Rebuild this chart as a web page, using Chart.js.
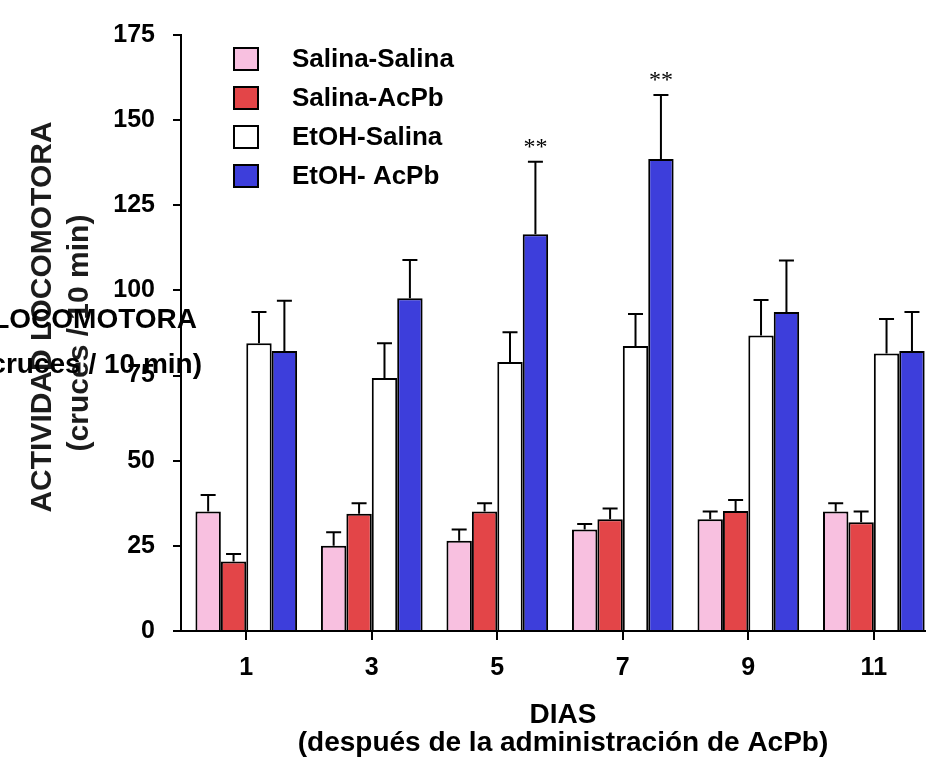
<!DOCTYPE html>
<html>
<head>
<meta charset="utf-8">
<script src="https://cdn.jsdelivr.net/npm/chart.js@4/dist/chart.umd.min.js"></script>
<style>
  html, body { margin: 0; padding: 0; background: #fff; overflow: hidden; }
  #wrap { width: 946px; height: 762px; }
</style>
</head>
<body>
<div id="wrap"><canvas id="c" width="946" height="762"></canvas></div>
<script>
// Days after AcPb administration
const days = [1, 3, 5, 7, 9, 11];

// Mean locomotor activity (crossings / 10 min) and SEM per group
const salinaSalina = [35.1, 25.0, 26.5, 29.8, 32.8, 35.1];
const salinaSalinaErr = [4.8, 4.0, 3.3, 1.6, 2.3, 2.4];
const salinaAcPb = [20.4, 34.4, 35.1, 32.8, 35.2, 31.9];
const salinaAcPbErr = [2.2, 3.1, 2.4, 3.2, 3.3, 3.2];
const etohSalina = [84.5, 74.3, 79.0, 83.7, 86.8, 81.5];
const etohSalinaErr = [9.2, 10.2, 8.7, 9.4, 10.4, 10.1];
const etohAcPb = [82.2, 97.7, 116.5, 138.6, 93.7, 82.2];
const etohAcPbErr = [14.8, 11.2, 21.3, 18.8, 15.1, 11.5];
const etohAcPbMarks = ['', '', '**', '**', '', ''];

const seriesNames = ['Salina-Salina', 'Salina-AcPb', 'EtOH-Salina', 'EtOH- AcPb'];
const yTicks = [0, 25, 50, 75, 100, 125, 150, 175];

const FONT = '"Liberation Sans", Arial, Helvetica, sans-serif';

function points(vals) { return days.map((d, i) => ({ x: d, y: vals[i] })); }

const datasets = [
  { label: seriesNames[0], data: points(salinaSalina), errors: salinaSalinaErr, backgroundColor: '#F8C0E0' },
  { label: seriesNames[1], data: points(salinaAcPb), errors: salinaAcPbErr, backgroundColor: '#E34548' },
  { label: seriesNames[2], data: points(etohSalina), errors: etohSalinaErr, backgroundColor: '#FFFFFF' },
  { label: seriesNames[3], data: points(etohAcPb), errors: etohAcPbErr, marks: etohAcPbMarks, backgroundColor: '#3D3EDB' }
];

// Upward SEM whiskers with caps, plus significance stars
const errorBars = {
  id: 'errorBars',
  afterDatasetsDraw(chart) {
    const ctx = chart.ctx, ys = chart.scales.y;
    ctx.save();
    ctx.strokeStyle = '#000';
    ctx.lineWidth = 2;
    chart.data.datasets.forEach((ds, di) => {
      const meta = chart.getDatasetMeta(di);
      meta.data.forEach((bar, i) => {
        const v = ds.data[i].y, e = ds.errors[i];
        const yTop = ys.getPixelForValue(v);
        const yCap = ys.getPixelForValue(v + e);
        ctx.beginPath();
        ctx.moveTo(bar.x, yTop);
        ctx.lineTo(bar.x, yCap);
        ctx.moveTo(bar.x - 7.5, yCap);
        ctx.lineTo(bar.x + 7.5, yCap);
        ctx.stroke();
        if (ds.marks && ds.marks[i]) {
          ctx.fillStyle = '#000';
          ctx.font = '24px "Liberation Serif", "Times New Roman", serif';
          ctx.textAlign = 'center';
          ctx.textBaseline = 'alphabetic';
          ctx.fillText(ds.marks[i], bar.x, yCap - 8);
        }
      });
    });
    ctx.restore();
  }
};

// Legend block in the upper-left of the plot
const boxLegend = {
  id: 'boxLegend',
  afterDraw(chart) {
    const ctx = chart.ctx;
    ctx.save();
    chart.data.datasets.forEach((ds, i) => {
      const top = 47 + i * 39;
      ctx.fillStyle = ds.backgroundColor;
      ctx.fillRect(233, top, 26, 24);
      ctx.strokeStyle = '#000';
      ctx.lineWidth = 2;
      ctx.strokeRect(234, top + 1, 24, 22);
      ctx.fillStyle = '#000';
      ctx.font = 'bold 26px ' + FONT;
      ctx.textAlign = 'left';
      ctx.textBaseline = 'middle';
      ctx.fillText(ds.label, 292, top + 13);
    });
    ctx.restore();
  }
};

// Axis titles
const axisTitles = {
  id: 'axisTitles',
  afterDraw(chart) {
    const ctx = chart.ctx;
    ctx.save();
    // vertical title
    ctx.fillStyle = '#1c1c1c';
    ctx.filter = 'blur(0.5px)';
    ctx.font = 'bold 30px ' + FONT;
    ctx.textAlign = 'center';
    ctx.textBaseline = 'middle';
    ctx.save();
    ctx.translate(43, 317);
    ctx.rotate(-Math.PI / 2);
    ctx.fillText('ACTIVIDAD LOCOMOTORA', 0, 0);
    ctx.restore();
    ctx.save();
    ctx.translate(80, 333);
    ctx.rotate(-Math.PI / 2);
    ctx.fillText('(cruces / 10 min)', 0, 0);
    ctx.restore();
    ctx.filter = 'none';
    // horizontal copy of the title
    ctx.fillStyle = '#000';
    ctx.font = 'bold 28px ' + FONT;
    ctx.textAlign = 'right';
    ctx.fillText('LOCOMOTORA', 197, 320);
    ctx.fillText('(cruces / 10 min)', 202, 365);
    // x title
    ctx.font = 'bold 28px ' + FONT;
    ctx.textAlign = 'center';
    ctx.fillText('DIAS', 563, 715);
    ctx.fillText('(después de la administración de AcPb)', 563, 743);
    ctx.restore();
  }
};

const tickFont = { family: FONT, size: 25, weight: 'bold' };

new Chart(document.getElementById('c'), {
  type: 'bar',
  data: { datasets },
  plugins: [errorBars, boxLegend, axisTitles],
  options: {
    responsive: false,
    animation: false,
    layout: { padding: { top: 35, left: 0, right: 0, bottom: 0 } },
    datasets: {
      bar: {
        categoryPercentage: 0.81,
        barPercentage: 1,
        borderWidth: 2,
        borderColor: '#000',
        borderSkipped: 'start'
      }
    },
    plugins: {
      legend: { display: false },
      tooltip: { enabled: false }
    },
    scales: {
      x: {
        type: 'linear',
        offset: false,
        min: -0.04,
        max: 12.15,
        afterBuildTicks(scale) { scale.ticks = days.map(v => ({ value: v })); },
        afterFit(scale) { scale.height = 131; },
        grid: { display: true, offset: false, drawOnChartArea: false, drawTicks: true, tickLength: 9, color: '#000', lineWidth: 2 },
        border: { display: true, color: '#000', width: 2 },
        ticks: { font: tickFont, color: '#000', padding: 13, autoSkip: false, maxRotation: 0, callback: v => String(v) }
      },
      y: {
        min: 0,
        max: 175,
        afterBuildTicks(scale) { scale.ticks = yTicks.map(v => ({ value: v })); },
        afterFit(scale) { scale.width = 181; },
        grid: { display: true, drawOnChartArea: false, drawTicks: true, tickLength: 8, color: '#000', lineWidth: 2 },
        border: { display: true, color: '#000', width: 2 },
        ticks: { font: tickFont, color: '#000', padding: 18, callback: v => String(v) }
      }
    }
  }
});
</script>
</body>
</html>
